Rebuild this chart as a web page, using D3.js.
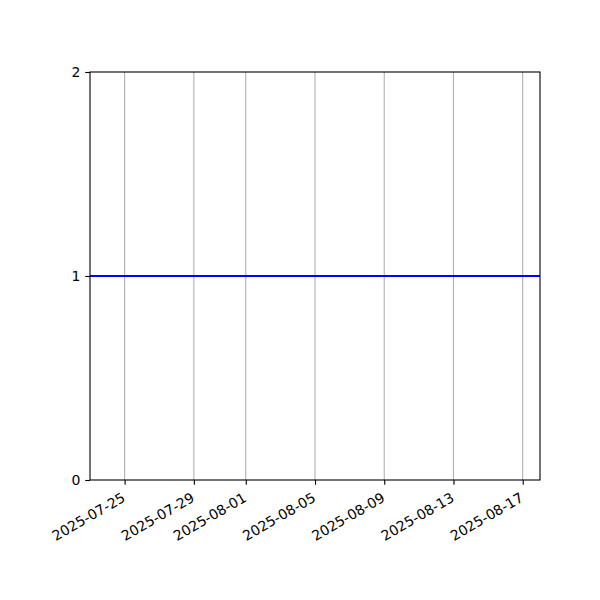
<!DOCTYPE html>
<html><head><meta charset="utf-8">
<script src="https://cdn.jsdelivr.net/npm/d3@7"></script>
<style>body{margin:0;background:#fff}</style>
</head><body>
<script>
const dates = ["2025-07-23","2025-07-24","2025-07-25","2025-07-26","2025-07-27","2025-07-28","2025-07-29","2025-07-30","2025-07-31","2025-08-01","2025-08-02","2025-08-03","2025-08-04","2025-08-05","2025-08-06","2025-08-07","2025-08-08","2025-08-09","2025-08-10","2025-08-11","2025-08-12","2025-08-13","2025-08-14","2025-08-15","2025-08-16","2025-08-17","2025-08-18"];
const values = [1,1,1,1,1,1,1,1,1,1,1,1,1,1,1,1,1,1,1,1,1,1,1,1,1,1,1];
const xTickLabels = ["2025-07-25","2025-07-29","2025-08-01","2025-08-05","2025-08-09","2025-08-13","2025-08-17"];
const yTicks = [0,1,2];

const parse = d3.utcParse("%Y-%m-%d");
const fmt = d3.utcFormat("%Y-%m-%d");
const data = dates.map((d,i)=>({date:parse(d), value:values[i]}));

const W=600,H=600, L=90, R=540, T=72, B=480;
const FONT = "DejaVu Sans";
const svg = d3.select("body").append("svg").attr("width",W).attr("height",H)
  .style("font-family",FONT);

const x = d3.scaleUtc().domain(d3.extent(data,d=>d.date)).range([L,R]);
const y = d3.scaleLinear().domain([0,2]).range([B,T]);
const xt = xTickLabels.map(parse);

// grid
svg.append("g").selectAll("line").data(xt).join("line")
  .attr("x1",d=>x(d)).attr("x2",d=>x(d)).attr("y1",T).attr("y2",B)
  .attr("stroke","#b0b0b0").attr("stroke-width",1.1);

// line
svg.append("path").datum(data)
  .attr("fill","none").attr("stroke","#0000ff").attr("stroke-width",2)
  .attr("d", d3.line().x(d=>x(d.date)).y(d=>y(d.value)));

// axes
const gx = svg.append("g").attr("transform",`translate(0,${B})`)
  .call(d3.axisBottom(x).tickValues(xt).tickFormat(fmt).tickSize(4.8).tickSizeOuter(0));
gx.attr("font-family",FONT);
gx.select(".domain").remove();
gx.selectAll("line").attr("stroke","#000").attr("stroke-width",1.1);
gx.selectAll("text").attr("font-size",14).attr("font-family",FONT).attr("fill","#000")
  .attr("text-anchor","end").attr("dy",null).attr("dx",null)
  .attr("transform","translate(-4,11.5) rotate(-30)").attr("y",0).attr("x",0)
  .attr("dominant-baseline","hanging");

const gy = svg.append("g").attr("transform",`translate(${L},0)`)
  .call(d3.axisLeft(y).tickValues(yTicks).tickFormat(d3.format("d")).tickSize(4.8).tickPadding(4.8));
gy.attr("font-family",FONT);
gy.select(".domain").remove();
gy.selectAll("line").attr("stroke","#000").attr("stroke-width",1.1);
gy.selectAll("text").attr("font-size",14).attr("font-family",FONT).attr("fill","#000");

// frame
svg.append("rect").attr("x",L).attr("y",T).attr("width",R-L).attr("height",B-T)
  .attr("fill","none").attr("stroke","#000").attr("stroke-width",1.1);
</script>
</body></html>
